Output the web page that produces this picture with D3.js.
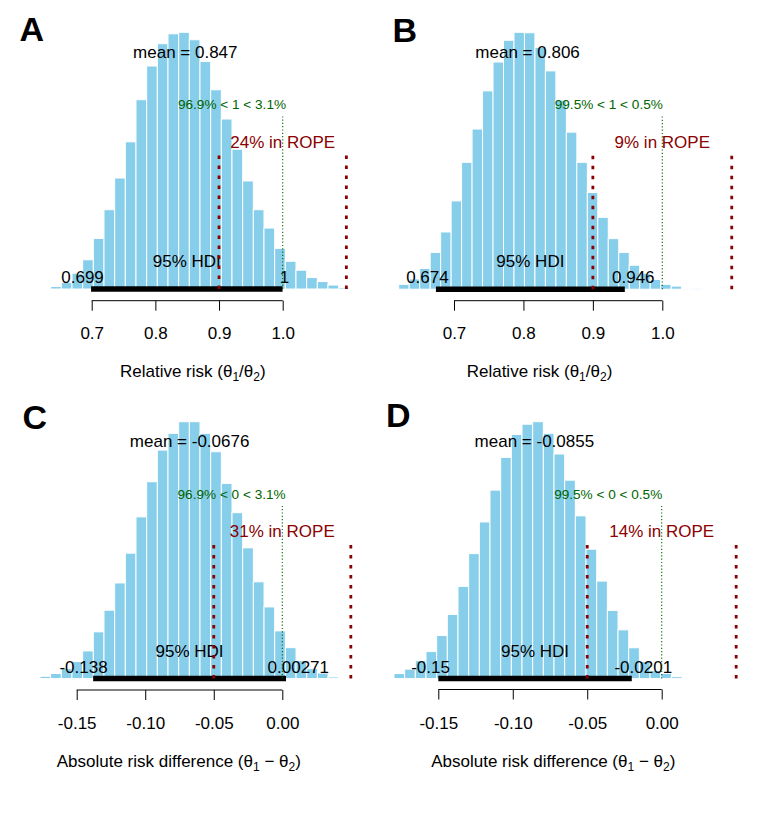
<!DOCTYPE html>
<html><head><meta charset="utf-8">
<script src="https://cdn.jsdelivr.net/npm/d3@7"></script>
<style>
html,body{margin:0;padding:0;background:#fff;}
svg{display:block;}
text{font-family:"Liberation Sans",Arial,sans-serif;}
</style></head><body>
<svg id="chart" width="764" height="815"></svg>
<script>
// ---------------- DATA ----------------
const panelLabels = ["A", "B", "C", "D"];
const binStarts = [0.6188, 0.6053, -0.18458, -0.18693];
const binWidths = [0.016753, 0.01509, 0.007784, 0.007164];
const densityA = [0.01,0.05,0.13,0.32,0.59,1.02,1.60,2.24,2.97,3.82,4.50,4.95,5.15,5.18,5.03,4.59,4.02,3.43,2.82,2.18,1.60,1.23,0.82,0.56,0.38,0.23,0.15,0.08,0.03,0.01];
const densityB = [0.02,0.11,0.23,0.47,0.83,1.29,1.99,2.86,3.61,4.47,5.12,5.61,5.79,5.78,5.45,4.92,4.26,3.54,2.86,2.18,1.62,1.14,0.83,0.54,0.36,0.22,0.11,0.07,0.02,0.01];
const densityC = [0.02,0.10,0.22,0.43,0.73,1.19,2.01,2.94,4.11,5.39,6.95,8.46,9.82,10.54,11.04,11.04,10.54,9.75,8.39,7.13,5.62,4.16,3.08,2.05,1.33,0.77,0.43,0.24,0.07,0.02];
const densityD = [0.03,0.24,0.45,0.85,1.28,2.04,3.04,4.37,5.92,7.42,8.93,10.48,11.57,12.05,12.17,11.62,10.64,9.40,7.71,6.13,4.62,3.23,2.31,1.46,0.81,0.38,0.25,0.09,0.03];
const densities = [densityA, densityB, densityC, densityD];
const means = [0.847, 0.806, -0.0676, -0.0855];
const meanLabels = ["0.847", "0.806", "-0.0676", "-0.0855"];
const hdiLow = [0.699, 0.674, -0.138, -0.15];
const hdiHigh = [0.9998, 0.946, 0.00271, -0.0201];
const hdiLowLabels = ["0.699", "0.674", "-0.138", "-0.15"];
const hdiHighLabels = ["1", "0.946", "0.00271", "-0.0201"];
const compVals = [1, 1, 0, 0];
const compLabels = ["1", "1", "0", "0"];
const pctBelow = [96.9, 99.5, 96.9, 99.5];
const pctAbove = [3.1, 0.5, 3.1, 0.5];
const ropeLow = [0.9, 0.9, -0.05, -0.05];
const ropeHigh = [1.1, 1.1, 0.05, 0.05];
const pctInRope = [24, 9, 31, 14];
const tickValsRR = [0.7, 0.8, 0.9, 1.0];
const tickLabelsRR = ["0.7", "0.8", "0.9", "1.0"];
const tickValsAD = [-0.15, -0.10, -0.05, 0.00];
const tickLabelsAD = ["-0.15", "-0.10", "-0.05", "0.00"];
const axisKinds = ["RR", "RR", "AD", "AD"];

// ---------------- LAYOUT ----------------
const layout = [
  {xPx:[91.7,282.7], yBase:289, yTop:32.3, axisY:300.7, tickY:339.3, titleX:192.8, titleY:377.3, lx:19.5, ly:40.5},
  {xPx:[454,662.3], yBase:289.2, yTop:32.3, axisY:300.7, tickY:339.3, titleX:539.5, titleY:377.3, lx:392.5, ly:42},
  {xPx:[76.7,282.3], yBase:678.6, yTop:421.7, axisY:690, tickY:728.7, titleX:178.8, titleY:767.3, lx:22.5, ly:429},
  {xPx:[438.3,661.7], yBase:678.6, yTop:421.7, axisY:689.5, tickY:728.7, titleX:553.3, titleY:767.3, lx:386, ly:427}
];

const svg = d3.select("#chart");
const FS = 17;

panelLabels.forEach((lab, p) => {
  const L = layout[p];
  const ticks = axisKinds[p] === "RR" ? tickValsRR : tickValsAD;
  const tickLabels = axisKinds[p] === "RR" ? tickLabelsRR : tickLabelsAD;
  const dens = densities[p];
  const x = d3.scaleLinear().domain([ticks[0], ticks[ticks.length-1]]).range(L.xPx);
  const maxD = d3.max(dens);
  const y = d3.scaleLinear().domain([0, maxD]).range([L.yBase, L.yTop]);
  const g = svg.append("g");

  // bars
  g.selectAll("rect.bar").data(dens).enter().append("rect")
    .attr("class", "bar")
    .attr("x", (d, i) => x(binStarts[p] + i*binWidths[p]))
    .attr("width", (d, i) => x(binStarts[p] + (i+1)*binWidths[p]) - x(binStarts[p] + i*binWidths[p]))
    .attr("y", d => y(d))
    .attr("height", d => y(0) - y(d))
    .attr("fill", "#87CEEB")
    .attr("stroke", "#ffffff")
    .attr("stroke-width", 1);

  // HDI line
  g.append("line")
    .attr("x1", x(hdiLow[p])).attr("x2", x(hdiHigh[p]))
    .attr("y1", y(0)).attr("y2", y(0))
    .attr("stroke", "#000").attr("stroke-width", 5.5).attr("stroke-linecap", "butt");

  // HDI texts
  g.append("text").attr("x", x((hdiLow[p] + hdiHigh[p]) / 2)).attr("y", y(0) - 22)
    .attr("text-anchor", "middle").attr("font-size", FS).attr("fill", "#000").text("95% HDI");
  const tl = g.append("text").attr("y", y(0) - 6).attr("font-size", FS).attr("fill", "#000").text(hdiLowLabels[p]);
  tl.attr("x", x(hdiLow[p]) - 0.7 * tl.node().getComputedTextLength());
  const th = g.append("text").attr("y", y(0) - 6).attr("font-size", FS).attr("fill", "#000").text(hdiHighLabels[p]);
  th.attr("x", x(hdiHigh[p]) - 0.3 * th.node().getComputedTextLength());

  // mean text
  g.append("text").attr("x", x(means[p])).attr("y", y(0.9 * maxD))
    .attr("text-anchor", "middle").attr("font-size", FS).attr("fill", "#000")
    .text("mean = " + meanLabels[p]);

  // comparison value
  g.append("line")
    .attr("x1", x(compVals[p])).attr("x2", x(compVals[p]))
    .attr("y1", y(0)).attr("y2", y(0.96 * 0.7 * maxD))
    .attr("stroke", "#006400").attr("stroke-width", 1.1).attr("stroke-dasharray", "1.2,2.1");
  const ct = g.append("text").attr("y", y(0.7 * maxD)).attr("font-size", 13.6).attr("fill", "#006400")
    .text(pctBelow[p] + "% < " + compLabels[p] + " < " + pctAbove[p] + "%");
  ct.attr("x", x(compVals[p]) - (pctBelow[p] / 100) * ct.node().getComputedTextLength());

  // ROPE
  [ropeLow[p], ropeHigh[p]].forEach(v => {
    g.append("line")
      .attr("x1", x(v)).attr("x2", x(v))
      .attr("y1", y(0)).attr("y2", y(0.96 * 0.55 * maxD))
      .attr("stroke", "#8B0000").attr("stroke-width", 2.8).attr("stroke-dasharray", "3.5,6.5");
  });
  g.append("text").attr("x", x((ropeLow[p] + ropeHigh[p]) / 2)).attr("y", y(0.55 * maxD))
    .attr("text-anchor", "middle").attr("font-size", FS).attr("fill", "#8B0000")
    .text(pctInRope[p] + "% in ROPE");

  // axis
  const ax = g.append("g").attr("transform", `translate(0,${L.axisY})`)
    .call(d3.axisBottom(x).tickValues(ticks).tickFormat((d, i) => tickLabels[i]).tickSize(10).tickSizeOuter(0).tickPadding(0));
  ax.select(".domain").attr("stroke", "#000").attr("stroke-width", 1)
    .attr("d", `M${x(ticks[0])},0H${x(ticks[ticks.length-1])}`);
  ax.selectAll(".tick line").attr("stroke", "#000");
  ax.selectAll(".tick text").attr("font-size", FS).attr("font-family", '"Liberation Sans",Arial,sans-serif')
    .attr("fill", "#000").attr("dy", null).attr("y", L.tickY - L.axisY);

  // axis title
  const t = g.append("text").attr("x", L.titleX).attr("y", L.titleY).attr("text-anchor", "middle")
    .attr("font-size", FS).attr("fill", "#000");
  if (axisKinds[p] === "RR") {
    t.append("tspan").text("Relative risk (θ");
    t.append("tspan").attr("font-size", 12).attr("dy", 4).text("1");
    t.append("tspan").attr("dy", -4).text("/θ");
    t.append("tspan").attr("font-size", 12).attr("dy", 4).text("2");
    t.append("tspan").attr("dy", -4).text(")");
  } else {
    t.append("tspan").text("Absolute risk difference (θ");
    t.append("tspan").attr("font-size", 12).attr("dy", 4).text("1");
    t.append("tspan").attr("dy", -4).text(" − θ");
    t.append("tspan").attr("font-size", 12).attr("dy", 4).text("2");
    t.append("tspan").attr("dy", -4).text(")");
  }

  // panel label
  svg.append("text").attr("x", L.lx).attr("y", L.ly)
    .attr("font-family", "Lato, 'Open Sans', sans-serif").attr("font-weight", "bold")
    .attr("font-size", 34).attr("fill", "#000").text(lab);
});
</script>
</body></html>
